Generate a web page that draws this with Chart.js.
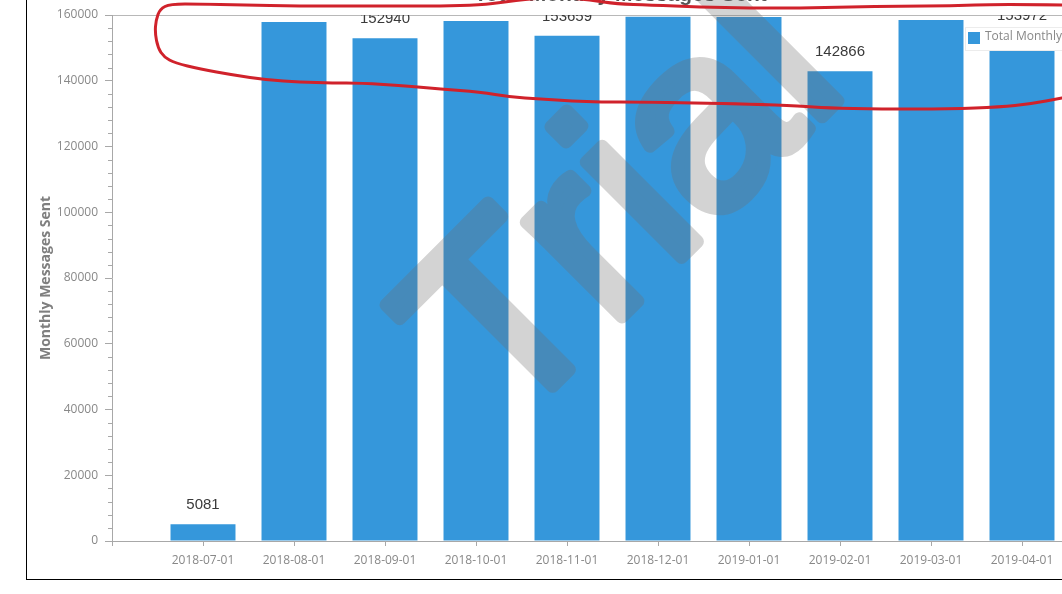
<!DOCTYPE html>
<html><head><meta charset="utf-8">
<script src="https://cdn.jsdelivr.net/npm/chart.js@4.4.0/dist/chart.umd.min.js"></script>
<style>
html,body{margin:0;padding:0;width:1062px;height:594px;overflow:hidden;background:#fff;}
#frame{position:absolute;left:26px;top:-20px;width:1200px;height:599px;border-left:1px solid #000;border-bottom:1px solid #000;}
#chart{position:absolute;left:28px;top:-60px;width:1100px;height:640px;}
#ink{position:absolute;left:0;top:0;width:1062px;height:594px;pointer-events:none;}
</style></head><body>
<div id="frame"></div>
<canvas id="chart" width="1100" height="640"></canvas>
<canvas id="ink" width="1062" height="594"></canvas>
<script>
// ---- data ----
const categories = ['', '2018-07-01', '2018-08-01', '2018-09-01', '2018-10-01', '2018-11-01', '2018-12-01', '2019-01-01', '2019-02-01', '2019-03-01', '2019-04-01', ''];
const messagesSent = [null, 5081, 157900, 152940, 158200, 153659, 159500, 159400, 142866, 158500, 153972, null];
const yMin = 0, yMax = 160000, yMajorStep = 20000, yMinorStep = 4000;
const chartTitle = 'Total Monthly Messages Sent';
const seriesLabel = 'Total Monthly Messages Sent';
const yAxisTitle = 'Monthly Messages Sent';
const watermarkText = 'Trial';

const BAR = '#3597db';
const AXIS = '#a8a8a8';
const TICKTXT = '#888888';
const FONT = "'Open Sans', 'Liberation Sans', sans-serif";

const titlePlugin = {
  id: 'cutTitle',
  afterDraw(chart) {
    const ctx = chart.ctx;
    ctx.save();
    ctx.font = "bold 21px 'Liberation Sans', Arial, sans-serif";
    ctx.fillStyle = '#555';
    ctx.textAlign = 'center';
    ctx.textBaseline = 'alphabetic';
    ctx.fillText(chartTitle, (chart.chartArea.left + chart.chartArea.right) / 2 + 8, chart.chartArea.top - 14);
    ctx.restore();
  }
};

const minorTicks = {
  id: 'minorTicks',
  afterDraw(chart) {
    const y = chart.scales.y, ctx = chart.ctx;
    ctx.save();
    ctx.strokeStyle = AXIS;
    ctx.lineWidth = 1;
    for (let v = yMin; v <= yMax; v += yMinorStep) {
      if (v % yMajorStep === 0) continue;
      const py = Math.round(y.getPixelForValue(v)) + 0.5;
      ctx.beginPath();
      ctx.moveTo(y.right - 4, py);
      ctx.lineTo(y.right, py);
      ctx.stroke();
    }
    ctx.restore();
  }
};

const watermark = {
  id: 'watermark',
  afterDatasetsDraw(chart) {
    const ctx = chart.ctx;
    const off = document.createElement('canvas');
    off.width = chart.width; off.height = chart.height;
    const o = off.getContext('2d');
    const a = chart.chartArea;
    o.translate(a.left + 566, a.top + 246);
    o.rotate(-Math.PI / 4);
    o.font = "255px 'Liberation Sans', Arial, sans-serif";
    o.textAlign = 'center';
    o.textBaseline = 'alphabetic';
    o.fillStyle = '#6f6f6f';
    o.strokeStyle = '#6f6f6f';
    o.lineWidth = 13;
    o.lineJoin = 'round';
    o.fillText(watermarkText, 0, 0);
    o.strokeText(watermarkText, 0, 0);
    ctx.save();
    ctx.globalAlpha = 0.3;
    ctx.drawImage(off, 0, 0);
    ctx.restore();
  }
};

const valueLabels = {
  id: 'valueLabels',
  afterDatasetsDraw(chart) {
    const ctx = chart.ctx, a = chart.chartArea;
    const meta = chart.getDatasetMeta(0);
    ctx.save();
    ctx.beginPath();
    ctx.rect(a.left, a.top, a.right - a.left, a.bottom - a.top);
    ctx.clip();
    ctx.font = "15px 'Liberation Sans', Arial, sans-serif";
    ctx.fillStyle = '#3a3a3a';
    ctx.textAlign = 'center';
    ctx.textBaseline = 'middle';
    meta.data.forEach((bar, i) => {
      const v = messagesSent[i];
      if (v === null || v === undefined) return;
      ctx.fillText(String(v), bar.x, bar.y - 19);
    });
    ctx.restore();
  }
};

const boxLegend = {
  id: 'boxLegend',
  afterDraw(chart) {
    const ctx = chart.ctx, a = chart.chartArea;
    const x = a.right - 148, y = a.top + 12;
    ctx.save();
    ctx.font = "12px 'Open Sans', 'Liberation Sans', sans-serif";
    const w = ctx.measureText(seriesLabel).width + 30, h = 23;
    ctx.fillStyle = '#fff';
    ctx.fillRect(x, y, w, h);
    ctx.strokeStyle = '#ececec';
    ctx.lineWidth = 1;
    ctx.strokeRect(x + 0.5, y + 0.5, w, h);
    ctx.fillStyle = BAR;
    ctx.fillRect(x + 3, y + 5, 12, 12);
    ctx.fillStyle = TICKTXT;
    ctx.textBaseline = 'middle';
    ctx.textAlign = 'left';
    ctx.fillText(seriesLabel, x + 20, y + 10);
    ctx.restore();
  }
};

new Chart(document.getElementById('chart'), {
  type: 'bar',
  data: {
    labels: categories,
    datasets: [{
      label: seriesLabel,
      data: messagesSent,
      backgroundColor: BAR,
      borderWidth: 0,
      barPercentage: 0.714,
      categoryPercentage: 1.0
    }]
  },
  options: {
    responsive: false,
    animation: false,
    devicePixelRatio: 1,
    layout: { padding: { top: 75, right: 15, bottom: 0, left: 0 } },
    plugins: {
      legend: { display: false },
      title: { display: false },
      tooltip: { enabled: false }
    },
    scales: {
      x: {
        type: 'category',
        offset: false,
        afterFit(s) { s.height = 39; },
        grid: { offset: false, drawOnChartArea: false, tickLength: 5, tickColor: AXIS, color: AXIS },
        border: { display: true, color: AXIS },
        ticks: { autoSkip: false, maxRotation: 0, minRotation: 0, color: TICKTXT, padding: 7, font: { family: FONT, size: 12 } }
      },
      y: {
        min: yMin, max: yMax,
        afterFit(s) { s.width = 84; },
        grid: {
          drawOnChartArea: true,
          color: (c) => (c.tick && c.tick.value === yMax) ? '#b8b8b8' : 'rgba(0,0,0,0)',
          tickColor: AXIS,
          tickLength: 7
        },
        border: { display: true, color: AXIS },
        ticks: { stepSize: yMajorStep, color: TICKTXT, padding: 7, font: { family: FONT, size: 12 },
                 callback: (v) => String(v) },
        title: {
          display: true, text: yAxisTitle, color: '#7f7f7f',
          font: { family: FONT, size: 14, weight: 'bold' },
          padding: { top: 10, bottom: 0 }
        }
      }
    }
  },
  plugins: [minorTicks, watermark, valueLabels, boxLegend, titlePlugin]
});

// hand-drawn red annotation loop over the screenshot
const inkPath = [
  [1062,5],[1000,4],[950,6],[900,6],[850,7],[800,8],[750,8],[700,7],[650,5],[617,4],[590,0],[560,-3],[527,-1],[505,2],
  [480,5],[440,6],[400,6],[360,6],[300,6],[240,5],[200,4],[170,4],[160,9],[156,20],[155,33],[158,48],[164,57],
  [175,63],[200,69],[233,75],[267,80],[300,82],[333,83],[360,83],[407,86],[440,89],[480,92],[510,97],[540,99],
  [573,101],[600,102],[640,102],[693,103],[750,104],[800,106],[827,108],[880,109],[950,109],[1000,107],[1030,104],[1062,98]
];
(function drawInk() {
  const c = document.getElementById('ink').getContext('2d');
  c.strokeStyle = '#d0222b';
  c.lineWidth = 3;
  c.lineCap = 'round';
  c.lineJoin = 'round';
  c.beginPath();
  c.moveTo(inkPath[0][0], inkPath[0][1]);
  for (let i = 1; i < inkPath.length - 1; i++) {
    const mx = (inkPath[i][0] + inkPath[i + 1][0]) / 2, my = (inkPath[i][1] + inkPath[i + 1][1]) / 2;
    c.quadraticCurveTo(inkPath[i][0], inkPath[i][1], mx, my);
  }
  const last = inkPath[inkPath.length - 1];
  c.lineTo(last[0], last[1]);
  c.stroke();
})();
</script>
</body></html>
